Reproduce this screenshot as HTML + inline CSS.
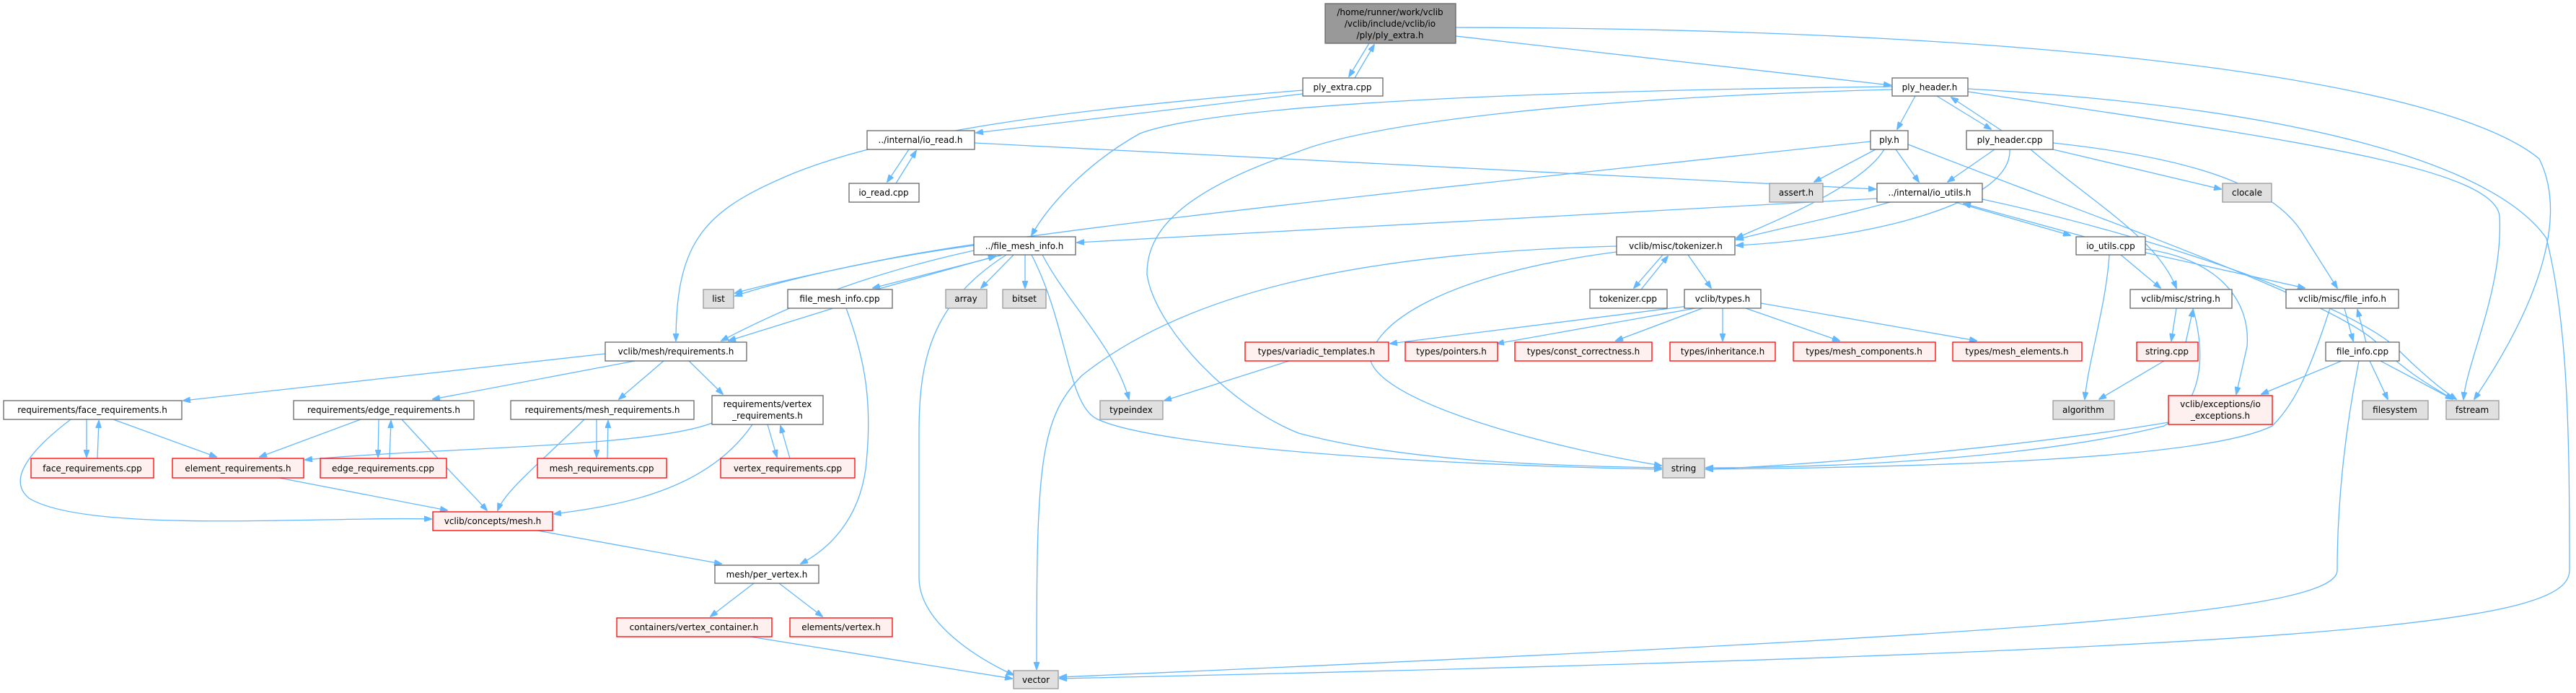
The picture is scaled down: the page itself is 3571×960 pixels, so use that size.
<!DOCTYPE html>
<html><head><meta charset="utf-8"><style>
html,body{margin:0;padding:0;background:#fff;}
svg{display:block;}
text{font-family:"DejaVu Sans","Liberation Sans",sans-serif;font-size:12px;fill:#000;}
.e{fill:none;stroke:#63b8ff;stroke-width:1.3;marker-end:url(#a);}
.n{fill:#fff;stroke:#666;stroke-width:1.3;}
.r{fill:#fff0f0;stroke:#f00;stroke-width:1.3;}
.g{fill:#e0e0e0;stroke:#999;stroke-width:1.3;}
.t{fill:#999;stroke:#666;stroke-width:1.3;}
</style></head><body>
<svg width="3571" height="960" viewBox="0 0 3571 960" xmlns="http://www.w3.org/2000/svg">
<defs><marker id="a" markerWidth="11" markerHeight="8" refX="10" refY="4" orient="auto" markerUnits="userSpaceOnUse"><path d="M0,0 L11,4 L0,8 z" fill="#63b8ff" stroke="#63b8ff"/></marker></defs>
<g>
<path class="e" d="M1898,60 L1870,106"/>
<path class="e" d="M1878,108 L1905,62"/>
<path class="e" d="M2018,50 C2200,70 2450,100 2621,118"/>
<path class="e" d="M2018,38 C2900,40 3400,120 3520,220 C3560,300 3520,420 3430,553"/>
<path class="e" d="M2728,123 C3200,150 3460,230 3530,330 C3560,450 3562,600 3562,790 C3562,860 3300,900 1469,940"/>
<path class="e" d="M2728,127 C3150,190 3460,230 3465,300 C3470,400 3420,500 3415,553"/>
<path class="e" d="M2645,200 C2900,300 3250,420 3300,480 C3340,520 3380,540 3400,553"/>
<path class="e" d="M2748,276 C3000,330 3250,420 3320,480 C3360,520 3385,540 3405,553"/>
<path class="e" d="M1806,125 C1500,150 1250,180 1100,240 C980,290 937,330 937,472"/>
<path class="e" d="M1806,130 L1353,184"/>
<path class="e" d="M2655,133 L2630,179"/>
<path class="e" d="M2685,133 L2760,179"/>
<path class="e" d="M2775,181 L2705,135"/>
<path class="e" d="M2623,120 C2200,125 1700,140 1580,185 C1500,230 1450,290 1430,326"/>
<path class="e" d="M2623,124 C2200,135 1900,170 1800,210 C1620,270 1590,330 1590,380 C1600,450 1700,560 1800,600 C1950,640 2150,645 2303,648"/>
<path class="e" d="M2593,196 C2000,260 1400,320 1200,365 C1100,385 1040,400 1019,406"/>
<path class="e" d="M2600,207 L2515,252"/>
<path class="e" d="M2628,207 L2660,252"/>
<path class="e" d="M2612,207 C2580,260 2450,310 2407,330"/>
<path class="e" d="M2765,207 L2700,252"/>
<path class="e" d="M2786,207 C2790,280 2600,330 2407,340"/>
<path class="e" d="M2815,207 C2900,280 2990,330 3017,399"/>
<path class="e" d="M2846,207 L3079,262"/>
<path class="e" d="M2846,198 C3050,220 3150,260 3190,320 L3240,399"/>
<path class="e" d="M1260,207 L1230,252"/>
<path class="e" d="M1242,254 L1270,209"/>
<path class="e" d="M1351,198 C1900,230 2300,250 2600,262"/>
<path class="e" d="M2602,275 C2200,300 1800,320 1493,336"/>
<path class="e" d="M2620,280 C2550,300 2450,320 2407,332"/>
<path class="e" d="M2710,280 L2870,326"/>
<path class="e" d="M2890,328 L2722,282"/>
<path class="e" d="M2924,353 C2920,420 2895,500 2890,553"/>
<path class="e" d="M2940,353 L2995,399"/>
<path class="e" d="M2974,350 L3195,399"/>
<path class="e" d="M2974,345 C3080,360 3120,420 3115,480 L3100,546"/>
<path class="e" d="M1350,340 C1200,360 1080,390 1019,410"/>
<path class="e" d="M1390,353 L1210,399"/>
<path class="e" d="M1215,401 L1380,355"/>
<path class="e" d="M1350,347 C1200,380 1100,420 1000,472"/>
<path class="e" d="M1155,427 L1010,472"/>
<path class="e" d="M1405,353 L1360,399"/>
<path class="e" d="M1421,353 L1421,399"/>
<path class="e" d="M1445,353 C1480,420 1545,480 1565,553"/>
<path class="e" d="M1430,353 C1480,450 1480,560 1520,580 C1600,620 2000,645 2303,650"/>
<path class="e" d="M1395,353 C1290,420 1274,500 1274,600 L1274,800 C1274,860 1350,910 1405,935"/>
<path class="e" d="M1173,427 C1200,500 1210,560 1200,650 C1190,720 1150,760 1110,781"/>
<path class="e" d="M2305,353 L2265,399"/>
<path class="e" d="M2275,401 L2312,355"/>
<path class="e" d="M2340,353 L2372,399"/>
<path class="e" d="M2241,341 C1900,350 1650,400 1500,520 C1440,580 1437,650 1437,927"/>
<path class="e" d="M2241,349 C2000,380 1900,450 1900,500 C1920,560 2150,620 2303,645"/>
<path class="e" d="M2340,424 L1927,476"/>
<path class="e" d="M2350,427 L2075,476"/>
<path class="e" d="M2360,427 L2240,472"/>
<path class="e" d="M2388,427 L2388,472"/>
<path class="e" d="M2420,427 L2550,472"/>
<path class="e" d="M2441,420 L2740,472"/>
<path class="e" d="M1787,500 L1614,555"/>
<path class="e" d="M3017,427 L3010,472"/>
<path class="e" d="M3030,474 L3040,429"/>
<path class="e" d="M3040,427 C3060,500 3050,560 3000,590 C2800,640 2500,648 2365,648"/>
<path class="e" d="M3000,500 L2910,553"/>
<path class="e" d="M3250,427 L3262,472"/>
<path class="e" d="M3280,474 L3268,429"/>
<path class="e" d="M3230,427 C3200,520 3180,560 3150,590 C3050,640 2600,648 2365,650"/>
<path class="e" d="M3246,500 L3135,546"/>
<path class="e" d="M3285,500 L3310,553"/>
<path class="e" d="M3300,500 L3400,553"/>
<path class="e" d="M3270,500 C3250,600 3240,700 3240,790 C3240,850 2800,880 1469,938"/>
<path class="e" d="M3006,585 C2800,620 2500,645 2365,650"/>
<path class="e" d="M839,490 L254,555"/>
<path class="e" d="M880,500 L600,553"/>
<path class="e" d="M920,500 L858,553"/>
<path class="e" d="M955,500 L1002,546"/>
<path class="e" d="M120,581 L120,633"/>
<path class="e" d="M135,635 L137,583"/>
<path class="e" d="M157,581 L300,633"/>
<path class="e" d="M98,581 C40,625 10,665 40,690 C120,740 450,715 598,719"/>
<path class="e" d="M500,581 L360,633"/>
<path class="e" d="M525,581 L524,633"/>
<path class="e" d="M540,635 L542,583"/>
<path class="e" d="M557,581 C620,650 660,690 675,707"/>
<path class="e" d="M810,581 C750,640 700,680 690,707"/>
<path class="e" d="M827,581 L827,633"/>
<path class="e" d="M842,635 L843,583"/>
<path class="e" d="M987,586 C900,620 600,620 423,637"/>
<path class="e" d="M1043,588 C980,680 860,700 768,712"/>
<path class="e" d="M1064,588 L1077,633"/>
<path class="e" d="M1095,635 L1082,590"/>
<path class="e" d="M387,662 L620,707"/>
<path class="e" d="M745,735 L1000,781"/>
<path class="e" d="M1045,808 L985,854"/>
<path class="e" d="M1080,808 L1140,854"/>
<path class="e" d="M1040,882 L1403,940"/>
</g>
<g>
<rect class="t" x="1837" y="5" width="181" height="55"/>
<text x="1927" y="21" text-anchor="middle">/home/runner/work/vclib</text>
<text x="1927" y="37" text-anchor="middle">/vclib/include/vclib/io</text>
<text x="1927" y="53" text-anchor="middle">/ply/ply_extra.h</text>

<rect class="n" x="1806" y="108" width="111" height="25"/><text x="1861" y="125" text-anchor="middle">ply_extra.cpp</text>
<rect class="n" x="2623" y="108" width="105" height="25"/><text x="2675" y="125" text-anchor="middle">ply_header.h</text>
<rect class="n" x="1202" y="181" width="149" height="26"/><text x="1276" y="198" text-anchor="middle">../internal/io_read.h</text>
<rect class="n" x="2593" y="181" width="52" height="26"/><text x="2619" y="198" text-anchor="middle">ply.h</text>
<rect class="n" x="2726" y="181" width="120" height="26"/><text x="2786" y="198" text-anchor="middle">ply_header.cpp</text>
<rect class="n" x="1177" y="254" width="97" height="26"/><text x="1225" y="271" text-anchor="middle">io_read.cpp</text>
<rect class="g" x="2453" y="254" width="74" height="26"/><text x="2490" y="271" text-anchor="middle">assert.h</text>
<rect class="n" x="2602" y="254" width="146" height="26"/><text x="2675" y="271" text-anchor="middle">../internal/io_utils.h</text>
<rect class="g" x="3081" y="254" width="68" height="26"/><text x="3115" y="271" text-anchor="middle">clocale</text>
<rect class="n" x="1350" y="328" width="141" height="25"/><text x="1420" y="345" text-anchor="middle">../file_mesh_info.h</text>
<rect class="n" x="2241" y="328" width="164" height="25"/><text x="2323" y="345" text-anchor="middle">vclib/misc/tokenizer.h</text>
<rect class="n" x="2878" y="328" width="96" height="25"/><text x="2926" y="345" text-anchor="middle">io_utils.cpp</text>
<rect class="g" x="975" y="401" width="42" height="26"/><text x="996" y="418" text-anchor="middle">list</text>
<rect class="n" x="1092" y="401" width="145" height="26"/><text x="1164" y="418" text-anchor="middle">file_mesh_info.cpp</text>
<rect class="g" x="1311" y="401" width="57" height="26"/><text x="1339" y="418" text-anchor="middle">array</text>
<rect class="g" x="1390" y="401" width="60" height="26"/><text x="1420" y="418" text-anchor="middle">bitset</text>
<rect class="n" x="2204" y="401" width="107" height="26"/><text x="2257" y="418" text-anchor="middle">tokenizer.cpp</text>
<rect class="n" x="2335" y="401" width="106" height="26"/><text x="2388" y="418" text-anchor="middle">vclib/types.h</text>
<rect class="n" x="2953" y="401" width="141" height="26"/><text x="3023" y="418" text-anchor="middle">vclib/misc/string.h</text>
<rect class="n" x="3169" y="401" width="156" height="26"/><text x="3247" y="418" text-anchor="middle">vclib/misc/file_info.h</text>
<rect class="n" x="839" y="474" width="196" height="26"/><text x="937" y="491" text-anchor="middle">vclib/mesh/requirements.h</text>
<rect class="r" x="1726" y="474" width="199" height="26"/><text x="1825" y="491" text-anchor="middle">types/variadic_templates.h</text>
<rect class="r" x="1948" y="474" width="128" height="26"/><text x="2012" y="491" text-anchor="middle">types/pointers.h</text>
<rect class="r" x="2100" y="474" width="190" height="26"/><text x="2195" y="491" text-anchor="middle">types/const_correctness.h</text>
<rect class="r" x="2315" y="474" width="146" height="26"/><text x="2388" y="491" text-anchor="middle">types/inheritance.h</text>
<rect class="r" x="2486" y="474" width="197" height="26"/><text x="2584" y="491" text-anchor="middle">types/mesh_components.h</text>
<rect class="r" x="2707" y="474" width="179" height="26"/><text x="2796" y="491" text-anchor="middle">types/mesh_elements.h</text>
<rect class="r" x="2962" y="474" width="85" height="26"/><text x="3004" y="491" text-anchor="middle">string.cpp</text>
<rect class="n" x="3224" y="474" width="102" height="26"/><text x="3275" y="491" text-anchor="middle">file_info.cpp</text>
<rect class="n" x="5" y="555" width="247" height="26"/><text x="128" y="572" text-anchor="middle">requirements/face_requirements.h</text>
<rect class="n" x="407" y="555" width="250" height="26"/><text x="532" y="572" text-anchor="middle">requirements/edge_requirements.h</text>
<rect class="n" x="708" y="555" width="254" height="26"/><text x="835" y="572" text-anchor="middle">requirements/mesh_requirements.h</text>
<rect class="n" x="987" y="548" width="154" height="40"/>
<text x="1064" y="564" text-anchor="middle">requirements/vertex</text>
<text x="1064" y="580" text-anchor="middle">_requirements.h</text>
<rect class="g" x="1525" y="555" width="87" height="26"/><text x="1568" y="572" text-anchor="middle">typeindex</text>
<rect class="g" x="2846" y="555" width="85" height="26"/><text x="2888" y="572" text-anchor="middle">algorithm</text>
<rect class="r" x="3006" y="548" width="144" height="40"/>
<text x="3078" y="564" text-anchor="middle">vclib/exceptions/io</text>
<text x="3078" y="580" text-anchor="middle">_exceptions.h</text>
<rect class="g" x="3275" y="555" width="91" height="26"/><text x="3320" y="572" text-anchor="middle">filesystem</text>
<rect class="g" x="3391" y="555" width="73" height="26"/><text x="3427" y="572" text-anchor="middle">fstream</text>
<rect class="r" x="43" y="635" width="170" height="27"/><text x="128" y="653" text-anchor="middle">face_requirements.cpp</text>
<rect class="r" x="239" y="635" width="182" height="27"/><text x="330" y="653" text-anchor="middle">element_requirements.h</text>
<rect class="r" x="444" y="635" width="175" height="27"/><text x="531" y="653" text-anchor="middle">edge_requirements.cpp</text>
<rect class="r" x="745" y="635" width="179" height="27"/><text x="834" y="653" text-anchor="middle">mesh_requirements.cpp</text>
<rect class="r" x="999" y="635" width="186" height="27"/><text x="1092" y="653" text-anchor="middle">vertex_requirements.cpp</text>
<rect class="g" x="2305" y="635" width="58" height="27"/><text x="2334" y="653" text-anchor="middle">string</text>
<rect class="r" x="600" y="709" width="166" height="26"/><text x="683" y="726" text-anchor="middle">vclib/concepts/mesh.h</text>
<rect class="n" x="991" y="783" width="144" height="25"/><text x="1063" y="800" text-anchor="middle">mesh/per_vertex.h</text>
<rect class="r" x="855" y="856" width="215" height="26"/><text x="962" y="873" text-anchor="middle">containers/vertex_container.h</text>
<rect class="r" x="1095" y="856" width="142" height="26"/><text x="1166" y="873" text-anchor="middle">elements/vertex.h</text>
<rect class="g" x="1405" y="929" width="62" height="25"/><text x="1436" y="946" text-anchor="middle">vector</text>
</g>
</svg>
</body></html>
